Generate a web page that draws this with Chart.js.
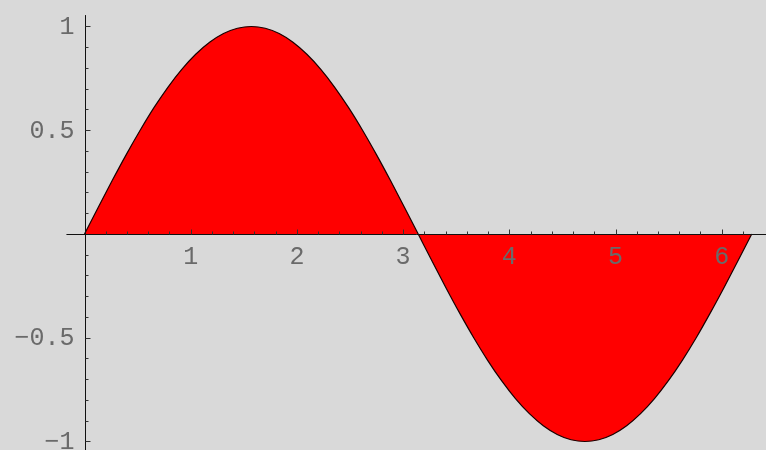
<!DOCTYPE html>
<html>
<head>
<meta charset="utf-8">
<script src="https://cdn.jsdelivr.net/npm/chart.js@4/dist/chart.umd.min.js"></script>
<style>
  html, body { margin: 0; padding: 0; background: #d9d9d9; }
  canvas { display: block; }
</style>
</head>
<body>
<canvas id="plot" width="766" height="450"></canvas>
<script>
// curve samples, x in radians (0 .. 2π)
const xValues = [
  0, 0.131, 0.262, 0.393, 0.524, 0.654, 0.785, 0.916, 1.047, 1.178, 1.309, 1.440,
  1.571, 1.702, 1.833, 1.963, 2.094, 2.225, 2.356, 2.487, 2.618, 2.749, 2.880, 3.011,
  3.142, 3.272, 3.403, 3.534, 3.665, 3.796, 3.927, 4.058, 4.189, 4.320, 4.451, 4.581,
  4.712, 4.843, 4.974, 5.105, 5.236, 5.367, 5.498, 5.629, 5.760, 5.890, 6.021, 6.152, 6.283
];
const yValues = [
  0, 0.1305, 0.2588, 0.3827, 0.5, 0.6088, 0.7071, 0.7934, 0.8660, 0.9239, 0.9659, 0.9914,
  1, 0.9914, 0.9659, 0.9239, 0.8660, 0.7934, 0.7071, 0.6088, 0.5, 0.3827, 0.2588, 0.1305,
  0, -0.1305, -0.2588, -0.3827, -0.5, -0.6088, -0.7071, -0.7934, -0.8660, -0.9239, -0.9659, -0.9914,
  -1, -0.9914, -0.9659, -0.9239, -0.8660, -0.7934, -0.7071, -0.6088, -0.5, -0.3827, -0.2588, -0.1305, 0
];

// labelled ticks on each axis
const xTickLabels = [1, 2, 3, 4, 5, 6];
const yTickLabels = [1, 0.5, -0.5, -1];

const points = xValues.map((x, i) => ({ x: x, y: yValues[i] }));

function fmt(v) {
  return String(v).replace('-', '\u2212');
}

// axes through the origin, drawn over the filled area
const originAxes = {
  id: 'originAxes',
  beforeDraw(chart) {
    const ctx = chart.ctx;
    ctx.save();
    ctx.fillStyle = '#d9d9d9';
    ctx.fillRect(0, 0, chart.width, chart.height);
    ctx.restore();
  },
  afterDatasetsDraw(chart) {
    const { ctx, scales: { x, y } } = chart;
    const x0 = Math.round(x.getPixelForValue(0)) + 0.5;
    const y0 = Math.round(y.getPixelForValue(0)) + 0.5;
    ctx.save();
    ctx.strokeStyle = '#111';
    ctx.lineWidth = 1;

    ctx.beginPath();
    ctx.moveTo(x.getPixelForValue(-0.17), y0);
    ctx.lineTo(chart.width, y0);
    ctx.moveTo(x0, y.getPixelForValue(1.055));
    ctx.lineTo(x0, chart.height);
    ctx.stroke();

    // x ticks point up, every 0.2
    ctx.strokeStyle = '#333';
    ctx.beginPath();
    for (let i = 1; i <= 31; i++) {
      const px = Math.round(x.getPixelForValue(i * 0.2)) + 0.5;
      const len = i % 5 === 0 ? 5 : 3;
      ctx.moveTo(px, y0);
      ctx.lineTo(px, y0 - len);
    }
    // y ticks point right, every 0.1
    for (let i = -10; i <= 10; i++) {
      if (i === 0) continue;
      const py = Math.round(y.getPixelForValue(i * 0.1)) + 0.5;
      const len = i % 5 === 0 ? 5 : 3;
      ctx.moveTo(x0, py);
      ctx.lineTo(x0 + len, py);
    }
    ctx.stroke();

    ctx.fillStyle = '#6a6a6a';
    ctx.font = '25px "Liberation Mono", monospace';
    ctx.textAlign = 'center';
    ctx.textBaseline = 'middle';
    xTickLabels.forEach(v => {
      ctx.fillText(fmt(v), x.getPixelForValue(v), y0 + 23);
    });
    ctx.textAlign = 'right';
    yTickLabels.forEach(v => {
      ctx.fillText(fmt(v), x0 - 11, y.getPixelForValue(v) + 1);
    });
    ctx.restore();
  }
};

new Chart(document.getElementById('plot'), {
  type: 'line',
  data: {
    datasets: [{
      data: points,
      borderColor: '#1a0000',
      borderWidth: 1.2,
      backgroundColor: '#ff0000',
      fill: 'origin',
      pointRadius: 0,
      tension: 0.4,
      cubicInterpolationMode: 'monotone'
    }]
  },
  options: {
    responsive: false,
    animation: false,
    layout: { padding: 0 },
    plugins: {
      legend: { display: false },
      tooltip: { enabled: false }
    },
    scales: {
      x: { type: 'linear', min: -0.7957, max: 6.417, display: false },
      y: { type: 'linear', min: -1.041, max: 1.1277, display: false }
    }
  },
  plugins: [originAxes]
});
</script>
</body>
</html>
